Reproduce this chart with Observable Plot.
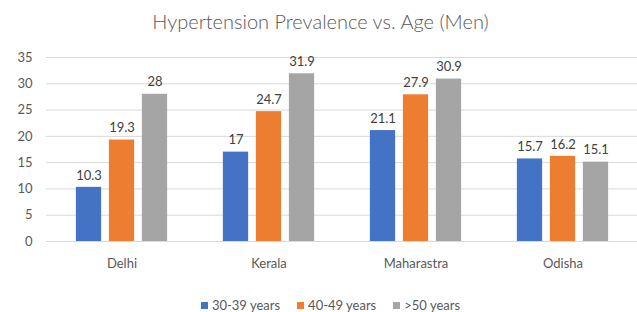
<!DOCTYPE html>
<html><head><meta charset="utf-8">
<script src="https://cdn.jsdelivr.net/npm/d3@7"></script>
<script src="https://cdn.jsdelivr.net/npm/@observablehq/plot@0.6"></script>
<style>
body{margin:0;background:#fff;font-family:Lato,"Open Sans",sans-serif;width:637px;height:312px;overflow:hidden;}
#title{height:44px;text-align:center;font-size:20px;font-weight:300;color:#595959;line-height:42px;padding-left:4px;}
#chart{height:231px;}
#legend{display:flex;justify-content:center;align-items:center;gap:17px;font-size:13px;color:#595959;padding-top:22px;padding-left:24px;}
#legend .item{display:flex;align-items:center;gap:4px;}
#legend .sw{width:7px;height:7px;display:inline-block;}
</style></head><body>
<div id="title">Hypertension Prevalence vs. Age (Men)</div>
<div id="chart"></div>
<div id="legend"></div>
<script>
const states = ["Delhi", "Kerala", "Maharastra", "Odisha"];
const ageGroups = ["30-39 years", "40-49 years", ">50 years"];
const age30to39 = [10.3, 17, 21.1, 15.7];
const age40to49 = [19.3, 24.7, 27.9, 16.2];
const age50plus = [28, 31.9, 30.9, 15.1];
const yTicks = [0, 5, 10, 15, 20, 25, 30, 35];
const colors = ["#4472C4", "#ED7D31", "#A5A5A5"];

const seriesValues = [age30to39, age40to49, age50plus];
const data = states.flatMap((s, i) => ageGroups.map((g, j) => ({state: s, group: g, value: seriesValues[j][i]})));

const barW = 26, step = 33;
const width = 637, mL = 46, mR = 0;
const band = (width - mL - mR) / states.length;
const inset = (band - barW) / 2;

const marks = [
  Plot.gridY(yTicks, {stroke: "#D9D9D9", strokeOpacity: 1, strokeWidth: 1}),
  Plot.axisY(yTicks, {tickSize: 0, tickPadding: 14, label: null, fill: "#595959", fontSize: 13}),
  Plot.axisX({tickSize: 0, tickPadding: 17, label: null, fill: "#595959", fontSize: 13})
];
ageGroups.forEach((g, j) => {
  const rows = data.filter(d => d.group === g);
  const dx = (j - 1) * step;
  marks.push(Plot.barY(rows, {x: "state", y: "value", fill: colors[j], insetLeft: inset, insetRight: inset, dx}));
  marks.push(Plot.text(rows, {x: "state", y: "value", text: d => String(d.value), dx, dy: -12, fill: "#404040", fontSize: 13}));
});

const chart = Plot.plot({
  width, height: 231,
  marginLeft: mL, marginRight: mR, marginTop: 13, marginBottom: 34,
  style: {fontFamily: "Lato, 'Open Sans', sans-serif", fontSize: "13px", background: "#fff"},
  x: {domain: states, padding: 0, label: null},
  y: {domain: [0, 35], label: null},
  marks
});
document.getElementById("chart").appendChild(chart);

const legend = document.getElementById("legend");
ageGroups.forEach((g, j) => {
  const it = document.createElement("span");
  it.className = "item";
  it.innerHTML = `<span class="sw" style="background:${colors[j]}"></span><span>${g}</span>`;
  legend.appendChild(it);
});
</script>
</body></html>
